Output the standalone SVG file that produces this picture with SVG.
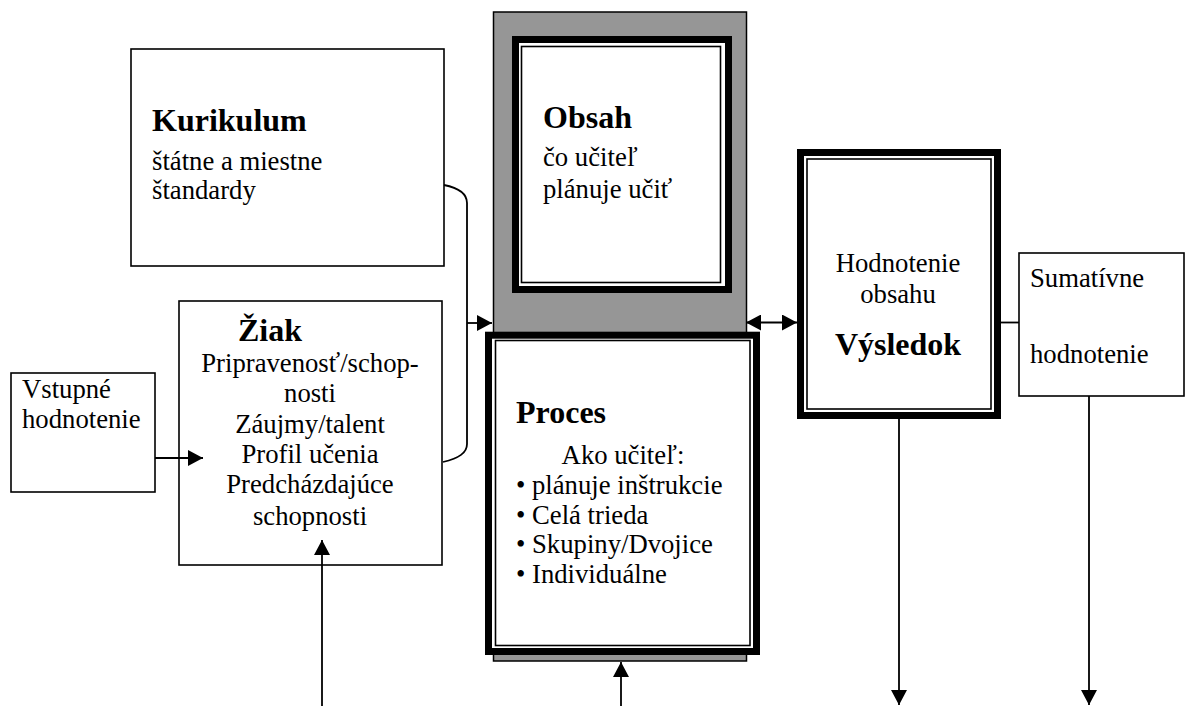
<svg xmlns="http://www.w3.org/2000/svg" width="1186" height="706" viewBox="0 0 1186 706">
<style>
text{font-family:"Liberation Serif","Times New Roman",serif;fill:#000}
.t{font-size:26.7px}
.b{font-size:32px;font-weight:bold}
.m{text-anchor:middle}
.box{fill:#fff;stroke:#000;stroke-width:1.6}
.thick{fill:#fff;stroke:#000;stroke-width:7}
.thin{fill:none;stroke:#000;stroke-width:1.6}
.c{fill:none;stroke:#000;stroke-width:1.8}
</style>
<defs>
<marker id="ah" viewBox="0 0 15 16" refX="15" refY="8" markerWidth="15" markerHeight="16" markerUnits="userSpaceOnUse" orient="auto-start-reverse">
<path d="M0,0 L15,8 L0,16 z" fill="#000"/>
</marker>
</defs>
<rect width="1186" height="706" fill="#fff"/>

<g id="frame">
<rect x="493.5" y="12" width="253" height="649" fill="#969696" stroke="#000" stroke-width="1.5"/>
</g>

<g id="kurikulum">
<rect class="box" x="131" y="49" width="313" height="217"/>
<text class="b" x="152" y="131">Kurikulum</text>
<text class="t" x="152" y="170">štátne a miestne</text>
<text class="t" x="152" y="199">štandardy</text>
</g>

<g id="obsah">
<rect class="thick" x="515.5" y="39.5" width="213" height="250"/>
<rect class="thin" x="521.5" y="46.5" width="199" height="236"/>
<text class="b" x="543" y="128">Obsah</text>
<text class="t" x="543" y="166">čo učiteľ</text>
<text class="t" x="543" y="198">plánuje učiť</text>
</g>

<g id="proces">
<rect class="thick" x="488.5" y="335.2" width="268" height="316.3"/>
<rect class="thin" x="495.5" y="340.5" width="254.5" height="305"/>
<text class="b" x="516" y="423">Proces</text>
<text class="t m" x="623" y="464">Ako učiteľ:</text>
<text class="t" x="516" y="494">• plánuje inštrukcie</text>
<text class="t" x="516" y="524">• Celá trieda</text>
<text class="t" x="516" y="553">• Skupiny/Dvojice</text>
<text class="t" x="516" y="583">• Individuálne</text>
</g>

<g id="ziak">
<rect class="box" x="179" y="301" width="263" height="264"/>
<text class="b" x="238" y="341">Žiak</text>
<text class="t m" x="310" y="372">Pripravenosť/schop-</text>
<text class="t m" x="310" y="402">nosti</text>
<text class="t m" x="310" y="433">Záujmy/talent</text>
<text class="t m" x="310" y="463">Profil učenia</text>
<text class="t m" x="310" y="493">Predcházdajúce</text>
<text class="t m" x="310" y="525">schopnosti</text>
</g>

<g id="vstupne">
<rect class="box" x="11" y="373" width="144" height="119"/>
<text class="t" x="22" y="398">Vstupné</text>
<text class="t" x="22" y="428">hodnotenie</text>
</g>

<g id="vysledok">
<rect class="thick" x="800.5" y="152.5" width="197" height="263"/>
<rect class="thin" x="807" y="159" width="184" height="250"/>
<text class="t m" x="898" y="272">Hodnotenie</text>
<text class="t m" x="898" y="303">obsahu</text>
<text class="b m" x="898" y="355">Výsledok</text>
</g>

<g id="sumativne">
<rect class="box" x="1019" y="253" width="165" height="143"/>
<text class="t" x="1030" y="287">Sumatívne</text>
<text class="t" x="1030" y="363">hodnotenie</text>
</g>

<g id="connectors">
<line class="c" x1="155" y1="458" x2="203" y2="458" marker-end="url(#ah)"/>
<line class="c" x1="322" y1="706" x2="322" y2="540" marker-end="url(#ah)"/>
<line class="c" x1="621" y1="706" x2="621" y2="662" marker-end="url(#ah)"/>
<path class="c" d="M444,185 C459,188 467,194 467,203 L467,444 C467,453 459,458 443,462"/>
<line class="c" x1="467" y1="323" x2="492" y2="323" marker-end="url(#ah)"/>
<line class="c" x1="746" y1="322.5" x2="797" y2="322.5" marker-start="url(#ah)" marker-end="url(#ah)"/>
<line class="c" x1="1001" y1="322.5" x2="1019" y2="322.5"/>
<line class="c" x1="899" y1="419" x2="899" y2="705" marker-end="url(#ah)"/>
<line class="c" x1="1089" y1="396" x2="1089" y2="705" marker-end="url(#ah)"/>
</g>
</svg>
